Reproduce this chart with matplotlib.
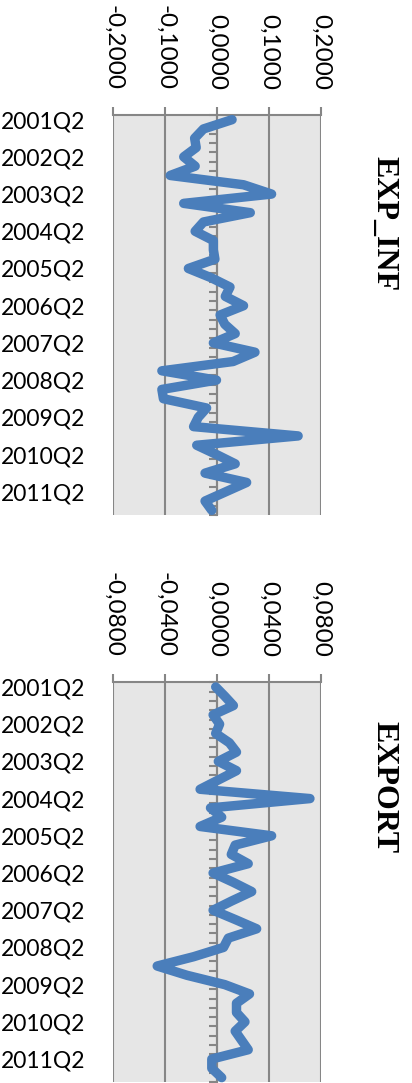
import numpy as np
import matplotlib
matplotlib.use("Agg")
import matplotlib.pyplot as plt
from matplotlib.ticker import FuncFormatter

# Quarterly periods, 2001Q2 .. 2011Q4
quarters = ["%dQ%d" % (2001 + (q + 1) // 4, (q + 1) % 4 + 1) for q in range(43)]

exp_inf = [0.029, -0.026, -0.043, -0.040, -0.064, -0.042, -0.090, 0.051, 0.105, -0.064,
           0.064, -0.026, -0.042, -0.007, -0.007, -0.004, -0.055, -0.011, 0.025, 0.016,
           0.051, 0.006, 0.015, 0.035, -0.007, 0.073, 0.031, -0.106, -0.001, -0.106,
           -0.103, -0.020, -0.036, -0.045, 0.156, -0.039, -0.001, 0.035, -0.023, 0.057,
           0.017, -0.023, -0.010]

export = [-0.001, 0.006, 0.0126, -0.003, 0.002, -0.001, 0.0095, 0.015, 0.001, 0.015,
          0.001, -0.013, 0.0715, -0.005, 0.0036, -0.013, 0.042, 0.014, 0.011, 0.024,
          -0.003, 0.0125, 0.0267, 0.0114, -0.003, 0.014, 0.0305, 0.0087, 0.005, -0.018,
          -0.046, -0.023, 0.006, 0.025, 0.015, 0.015, 0.0215, 0.014, 0.019, 0.024,
          -0.004, -0.004, 0.0036]

inf_ticks = [-0.2, -0.1, 0.0, 0.1, 0.2]
exp_ticks = [-0.08, -0.04, 0.0, 0.04, 0.08]

line_col = "#4a7ebb"
grid_col = "#868686"
W, H = 412, 1083

fig = plt.figure(figsize=(W / 100, H / 100), dpi=100)


def comma_fmt(v, pos):
    return ("%.4f" % v).replace(".", ",")


def panel(bottom_px, values, ticks, title, title_y):
    ax = fig.add_axes([113 / W, (H - bottom_px) / H, 208 / W, 400 / H])
    ax.set_facecolor("#e6e6e6")
    idx = np.arange(len(values))
    ax.plot(values, idx, color=line_col, lw=6.8, solid_joinstyle="round",
            solid_capstyle="round", zorder=3, clip_on=False)
    ax.set_xlim(ticks[0], ticks[-1])
    ax.set_ylim(len(values) - 0.5, -0.5)

    # value axis on top, rotated labels
    ax.xaxis.tick_top()
    ax.set_xticks(ticks)
    ax.xaxis.set_major_formatter(FuncFormatter(comma_fmt))
    ax.tick_params(axis="x", direction="out", length=6, width=1.5, color=grid_col,
                   pad=12, labelsize=17.5, labelrotation=-90)
    for lab in ax.get_xticklabels():
        lab.set_fontfamily("Lato")
    ax.grid(axis="x", color=grid_col, lw=1.5)
    ax.set_axisbelow(True)

    # category axis crossing at zero
    for s in ("right", "bottom"):
        ax.spines[s].set_visible(False)
    ax.spines["top"].set_color(grid_col)
    ax.spines["top"].set_linewidth(1.5)
    ax.spines["left"].set_position(("data", 0))
    ax.spines["left"].set_color(grid_col)
    ax.spines["left"].set_linewidth(1.5)
    ax.spines["left"].set_zorder(1.5)
    ax.set_yticks(idx[::4])
    ax.set_yticklabels(quarters[::4], fontfamily="Lato", fontsize=16.5)
    ax.set_yticks(np.arange(len(values) + 1) - 0.5, minor=True)
    ax.tick_params(axis="y", which="major", length=0, pad=94.5)
    ax.tick_params(axis="y", which="minor", direction="out", length=5.5, width=1.5,
                   color=grid_col)

    fig.text(384 / W, 1 - title_y / H, title, rotation=-90, ha="center", va="center",
             fontfamily="Liberation Serif", fontweight="bold", fontsize=23)
    return ax


panel(515, exp_inf, inf_ticks, "EXP_INF", 224)
panel(1082.3, export, exp_ticks, "EXPORT", 787)

fig.savefig("out.png", dpi=100)
